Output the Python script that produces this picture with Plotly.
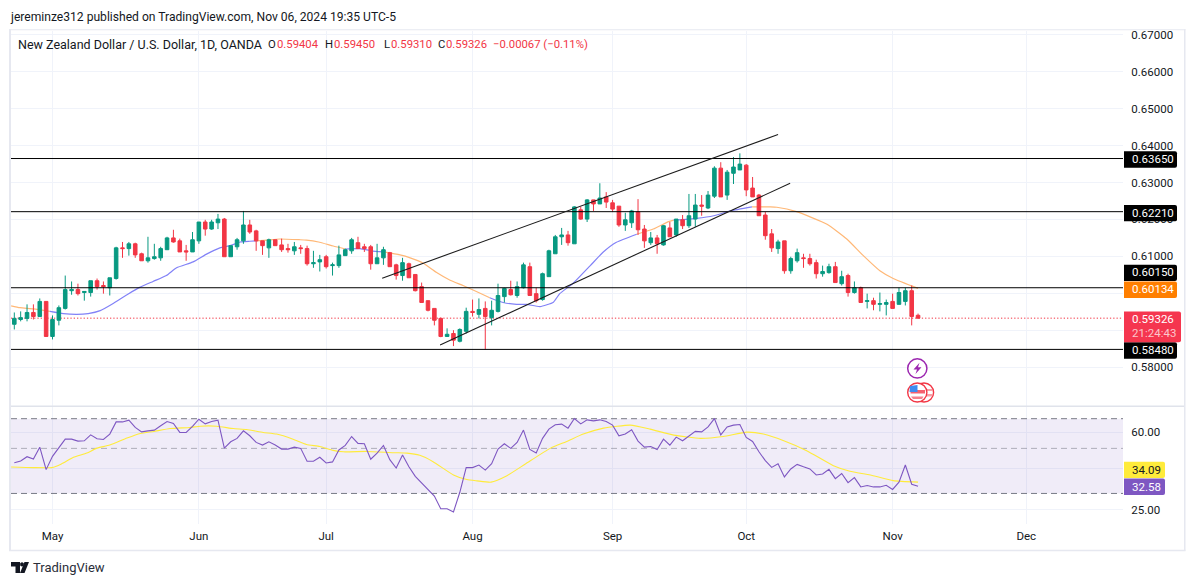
import plotly.graph_objects as go

W, H = 1195, 585

OPEN = [.5916,.5929,.5932,.5948,.5937,.5978,.5883,.5927,.5959,.6007,
 .6010,.6002,.6002,.6034,.6021,.6015,.6040,.6123,.6121,.6134,
 .6107,.6088,.6094,.6096,.6118,.6150,.6142,.6115,.6112,.6142,
 .6193,.6174,.6191,.6201,.6099,.6126,.6142,.6185,.6169,.6142,
 .6123,.6145,.6131,.6121,.6115,.6123,.6121,.6080,.6085,.6099,
 .6075,.6075,.6102,.6115,.6137,.6126,.6126,.6080,.6096,.6110,
 .6077,.6048,.6080,.6051,.6018,.5980,.5959,.5932,.5883,.5891,
 .5870,.5897,.5951,.5943,.5959,.5934,.5951,.5991,.6010,.5994,
 .6015,.6072,.5999,.5983,.6045,.6107,.6153,.6158,.6134,.6226,
 .6201,.6253,.6242,.6261,.6245,.6236,.6185,.6191,.6220,.6174,
 .6137,.6150,.6131,.6177,.6158,.6199,.6183,.6201,.6239,.6231,
 .6263,.6339,.6266,.6325,.6334,.6347,.6285,.6266,.6212,.6161,
 .6121,.6142,.6061,.6088,.6096,.6094,.6083,.6053,.6056,.6072,
 .6026,.6048,.6002,.6015,.5978,.5980,.5970,.5970,.5978,.5970,
 .5978,.6007,.59404]
HIGH = [.5948,.5951,.5970,.5970,.5986,.5978,.5940,.5967,.6048,.6032,
 .6026,.6005,.6034,.6040,.6032,.6042,.6126,.6139,.6139,.6137,
 .6110,.6153,.6134,.6126,.6153,.6172,.6148,.6131,.6166,.6193,
 .6199,.6199,.6215,.6204,.6129,.6150,.6223,.6199,.6172,.6142,
 .6148,.6145,.6148,.6134,.6139,.6131,.6129,.6115,.6104,.6104,
 .6083,.6129,.6121,.6150,.6153,.6134,.6131,.6134,.6126,.6112,
 .6080,.6096,.6083,.6051,.6029,.5980,.5959,.5934,.5905,.5900,
 .5905,.5961,.5983,.5986,.5978,.5980,.6026,.6015,.6034,.6032,
 .6083,.6083,.6015,.6056,.6118,.6158,.6177,.6169,.6236,.6234,
 .6255,.6253,.6298,.6274,.6253,.6236,.6218,.6226,.6255,.6185,
 .6166,.6158,.6185,.6193,.6201,.6212,.6269,.6269,.6266,.6277,
 .6344,.6355,.6334,.6369,.6379,.6350,.6315,.6269,.6220,.6174,
 .6145,.6142,.6099,.6121,.6107,.6107,.6091,.6075,.6080,.6085,
 .6061,.6053,.6032,.6018,.5999,.5988,.6002,.5983,.5999,.6015,
 .6015,.6021,.59450]
LOW = [.5902,.5924,.5924,.5929,.5937,.5883,.5875,.5913,.5956,.5996,
 .5994,.5980,.5991,.6010,.5999,.5994,.6037,.6096,.6102,.6096,
 .6088,.6083,.6091,.6088,.6118,.6137,.6112,.6088,.6112,.6134,
 .6156,.6172,.6174,.6099,.6099,.6118,.6134,.6161,.6115,.6104,
 .6096,.6129,.6112,.6110,.6104,.6107,.6075,.6069,.6059,.6067,
 .6048,.6069,.6102,.6107,.6121,.6112,.6064,.6080,.6077,.6072,
 .6037,.6034,.6042,.6005,.5975,.5951,.5913,.5881,.5883,.5857,
 .5867,.5891,.5937,.5932,.5848,.5913,.5948,.5975,.5994,.5988,
 .6013,.5994,.5975,.5980,.6045,.6107,.6131,.6129,.6134,.6199,
 .6193,.6223,.6242,.6231,.6220,.6180,.6169,.6177,.6158,.6123,
 .6131,.6107,.6129,.6153,.6153,.6174,.6177,.6180,.6210,.6228,
 .6258,.6261,.6253,.6296,.6334,.6263,.6261,.6210,.6145,.6112,
 .6107,.6053,.6053,.6083,.6069,.6075,.6040,.6045,.6053,.6029,
 .6021,.5991,.5999,.5975,.5959,.5954,.5951,.5940,.5959,.5970,
 .5967,.5913,.59310]
CLOSE = [.5932,.5934,.5948,.5937,.5978,.5883,.5929,.5961,.6010,.6010,
 .5999,.6005,.6034,.6018,.6018,.6042,.6123,.6121,.6134,.6104,
 .6088,.6096,.6099,.6121,.6150,.6139,.6112,.6112,.6145,.6193,
 .6174,.6193,.6201,.6099,.6129,.6145,.6185,.6166,.6142,.6129,
 .6145,.6129,.6118,.6118,.6126,.6121,.6080,.6083,.6091,.6072,
 .6077,.6104,.6118,.6145,.6121,.6121,.6080,.6096,.6118,.6072,
 .6048,.6083,.6042,.6007,.5975,.5954,.5927,.5883,.5889,.5873,
 .5902,.5951,.5948,.5956,.5937,.5954,.5994,.6013,.5996,.6018,
 .6077,.5994,.5980,.6053,.6115,.6153,.6158,.6137,.6234,.6201,
 .6253,.6242,.6258,.6247,.6228,.6185,.6199,.6223,.6172,.6142,
 .6150,.6134,.6183,.6153,.6201,.6183,.6210,.6239,.6236,.6266,
 .6339,.6261,.6328,.6342,.6350,.6280,.6261,.6210,.6156,.6123,
 .6139,.6061,.6094,.6110,.6094,.6080,.6053,.6059,.6072,.6029,
 .6045,.6002,.6015,.5975,.5980,.5970,.5972,.5975,.5959,.6002,
 .6007,.5937,.59326]
RSI = [42.5,43.3,45.5,44.3,50.7,39.3,45.7,50.4,55.5,55.5,
 54.3,54.5,58.3,55.8,55.3,58.8,67.5,67.5,68.8,63.4,
 60.3,61.0,61.5,64.6,67.8,66.3,59.9,59.9,64.1,69.6,
 66.0,67.8,68.8,50.2,53.9,56.0,61.0,57.7,53.5,51.9,
 53.9,51.9,49.6,49.6,50.7,50.0,43.2,43.2,45.2,42.4,
 42.9,49.1,51.7,57.2,52.9,52.7,44.2,47.4,51.7,44.0,
 40.0,46.4,40.6,36.4,33.8,31.6,29.1,25.2,25.2,24.3,
 30.4,40.2,40.2,41.4,39.1,42.0,49.6,52.7,50.0,53.5,
 61.5,49.4,47.4,56.0,62.2,65.3,65.8,62.9,70.1,66.0,
 69.1,68.3,69.1,67.8,65.1,57.7,58.8,61.7,54.3,50.7,
 51.1,49.4,55.5,51.9,56.8,54.5,57.7,60.6,60.3,63.8,
 70.1,58.3,63.8,65.1,65.5,56.6,54.1,48.1,43.5,40.3,
 42.0,36.2,39.6,41.7,40.6,39.6,37.0,37.4,39.4,35.5,
 37.6,33.9,35.9,32.3,32.8,32.3,32.3,32.9,31.4,34.1,
 41.4,33.3,32.58]
BARS = list(range(len(OPEN)))
assert len(OPEN) == len(HIGH) == len(LOW) == len(CLOSE) == len(RSI) == 143

RSI_MA_BAR = [-0.5,3.0,5.9,7.4,9.3,11.4,12.9,15.0,17.7,19.8,21.9,24.5,27.6,29.2,31.8,34.4,36.5,39.1,41.2,43.8,
 45.9,48.0,50.1,51.7,55.4,59.6,61.7,63.7,65.8,69.0,71.1,72.7,74.9,77.4,80.3,84.2,86.8,89.4,92.6,96.8,
 99.9,103.6,107.8,111.4,115.1,117.7,120.9,124.5,128.7,131.3,134.5,138.1,142]
RSI_MA = [40.5,40.2,40.2,41.9,45.2,47.4,50.0,51.9,56.2,59.2,60.6,62.6,63.4,64.3,64.3,62.6,61.9,59.9,58.8,55.5,
 52.3,51.1,48.9,48.1,48.3,47.6,47.4,46.2,43.0,37.0,35.1,34.6,34.1,36.7,41.9,50.0,54.1,58.8,62.9,65.1,
 62.2,58.1,56.0,57.2,60.1,58.8,54.5,48.7,41.1,38.6,37.0,34.7,34.09]

MA_ORANGE_BAR = [-0.5,0.9,3.0,5.6,None,38.1,39.7,41.7,44.9,45.9,47.8,50.1,52.0,None,58.0,60.6,62.2,64.2,66.3,68.4,70.5,72.6,74.7,None,
 97.8,100.4,102.8,103.6,None,115.9,118.8,119.8,122.9,127.7,130.8,133.4,136.0,138.1,142]
MA_ORANGE = [.5966,.5961,.5958,.5951,None,.6142,.6144,.6147,.6145,.6144,.6139,.6128,.6120,None,.6112,.6104,.6096,.6082,.6057,.6036,.6021,.6005,.5988,None,
 .6160,.6174,.6194,.6198,None,.6234,.6234,.6233,.6221,.6187,.6147,.6102,.6061,.6040,.60134]
MA_BLUE_BAR = [5.6,7.7,9.8,11.6,13.5,15.6,17.9,19.7,21.8,23.9,25.5,28.1,30.2,32.3,33.9,35.5,37.0,38.1,None,52.0,54.3,56.1,58.0,None,
 74.7,76.8,78.9,80.5,82.6,84.7,85.7,87.8,90.5,92.5,94.6,97.8,None,103.6,107.2,109.9,112.5,115.9]
MA_BLUE = [.5951,.5945,.5943,.5945,.5953,.5973,.5998,.6016,.6032,.6048,.6069,.6085,.6106,.6123,.6129,.6139,.6141,.6142,None,.6120,.6121,.6115,.6112,None,
 .5988,.5975,.5970,.5970,.5964,.5976,.5999,.6027,.6075,.6111,.6138,.6160,None,.6198,.6203,.6210,.6223,.6234]

LEVELS = [0.6365, 0.6221, 0.6015, 0.5848]
LAST_PRICE = 0.59326
CHANNEL_UPPER_BAR = [57.8, 120.0]
CHANNEL_UPPER = [0.6041, 0.6430]
CHANNEL_LOWER_BAR = [66.9, 121.9]
CHANNEL_LOWER = [0.5860, 0.6298]
PRICE_TICKS = [0.58, 0.59, 0.60, 0.61, 0.62, 0.63, 0.64, 0.65, 0.66, 0.67]
PRICE_TICK_LABELS = ["0.58000", "", "", "0.61000", "0.62000", "0.63000", "0.64000", "0.65000", "0.66000", "0.67000"]
RSI_TICKS = [60, 40, 25]
RSI_TICK_LABELS = ["60.00", "", "25.00"]
RSI_BANDS = [70, 50, 30]
MONTH_BARS = [6, 29, 49, 72, 94, 115, 138, 159]
MONTH_LABELS = ["May", "Jun", "Jul", "Aug", "Sep", "Oct", "Nov", "Dec"]

X_LEFT, X_RIGHT = -0.52, 174.2
FONT = "Roboto, sans-serif"
INK = "#131722"
GREEN, RED = "#089981", "#F23645"
GRID = "#F0F3FA"
FRAME = "#E6E8F0"


def fx(p):
    return p / W


def fy(p):
    return 1 - p / H


fig = go.Figure()

# base layer of the price pane
fig.add_trace(go.Scatter(x=[X_LEFT, X_RIGHT], y=[LAST_PRICE, LAST_PRICE], mode="lines",
                         line=dict(color=RED, width=1, dash="1.3px,2px"), xaxis="x", yaxis="y"))
fig.add_trace(go.Scatter(x=MA_ORANGE_BAR, y=MA_ORANGE, mode="lines", line=dict(color="#FFB877", width=1.2, shape="spline", smoothing=0.5),
                         connectgaps=False, xaxis="x", yaxis="y"))
fig.add_trace(go.Scatter(x=MA_BLUE_BAR, y=MA_BLUE, mode="lines", line=dict(color="#8282F7", width=1.2, shape="spline", smoothing=0.5),
                         connectgaps=False, xaxis="x", yaxis="y"))

# candles and drawings above it
fig.add_trace(go.Candlestick(x=BARS, open=OPEN, high=HIGH, low=LOW, close=CLOSE,
                             increasing=dict(line=dict(color=GREEN, width=1), fillcolor=GREEN),
                             decreasing=dict(line=dict(color=RED, width=1), fillcolor=RED),
                             xaxis="x3", yaxis="y3"))
for lvl in LEVELS:
    fig.add_trace(go.Scatter(x=[X_LEFT, X_RIGHT], y=[lvl, lvl], mode="lines", line=dict(color="#000000", width=1),
                             xaxis="x3", yaxis="y3"))
fig.add_trace(go.Scatter(x=CHANNEL_UPPER_BAR, y=CHANNEL_UPPER, mode="lines", line=dict(color="#1c1c1c", width=1.1), xaxis="x3", yaxis="y3"))
fig.add_trace(go.Scatter(x=CHANNEL_LOWER_BAR, y=CHANNEL_LOWER, mode="lines", line=dict(color="#1c1c1c", width=1.1), xaxis="x3", yaxis="y3"))

# RSI pane
fig.add_trace(go.Scatter(x=[X_LEFT, X_RIGHT], y=[RSI_BANDS[2]] * 2, mode="lines", line=dict(color="#787B86", width=1, dash="6px,4px"),
                         xaxis="x2", yaxis="y2"))
fig.add_trace(go.Scatter(x=[X_LEFT, X_RIGHT], y=[RSI_BANDS[0]] * 2, mode="lines", line=dict(color="#787B86", width=1, dash="6px,4px"),
                         fill="tonexty", fillcolor="rgba(126,87,194,0.115)", xaxis="x2", yaxis="y2"))
fig.add_trace(go.Scatter(x=[X_LEFT, X_RIGHT], y=[RSI_BANDS[1]] * 2, mode="lines", line=dict(color="rgba(120,123,134,0.55)", width=1, dash="6px,4px"),
                         xaxis="x2", yaxis="y2"))
fig.add_trace(go.Scatter(x=RSI_MA_BAR, y=RSI_MA, mode="lines", line=dict(color="#FFEB3B", width=1.1, shape="spline", smoothing=0.5), xaxis="x2", yaxis="y2"))
fig.add_trace(go.Scatter(x=BARS, y=RSI, mode="lines", line=dict(color="#7E57C2", width=1.1), xaxis="x2", yaxis="y2"))

shapes = []


def frame_rect(x0, y0, x1, y1, color):
    shapes.append(dict(type="rect", xref="paper", yref="paper", x0=fx(x0), x1=fx(x1), y0=fy(y0), y1=fy(y1),
                       fillcolor=color, line=dict(width=0), layer="above"))


frame_rect(9, 26.5, 1185.5, 27.5, FRAME)
frame_rect(9, 26.5, 11, 550.5, FRAME)
frame_rect(1184, 26.5, 1185.5, 550.5, FRAME)
frame_rect(9, 549.5, 1185.5, 551, FRAME)
frame_rect(11, 404.5, 1184, 406, "#E0E3EB")

annotations = []


def text(x, y, s, color=INK, size=11.5, anchor="left"):
    annotations.append(dict(xref="paper", yref="paper", x=fx(x - 2), y=fy(y), text=s, showarrow=False,
                            xanchor=anchor, yanchor="middle",
                            font=dict(family=FONT, size=size, color=color)))


def tag(x0, y0, x1, y1, bg):
    r = 2
    path = (f"M {fx(x0)} {fy(y0)} L {fx(x1 - r)} {fy(y0)} Q {fx(x1)} {fy(y0)} {fx(x1)} {fy(y0 + r)} "
            f"L {fx(x1)} {fy(y1 - r)} Q {fx(x1)} {fy(y1)} {fx(x1 - r)} {fy(y1)} L {fx(x0)} {fy(y1)} Z")
    shapes.append(dict(type="path", xref="paper", yref="paper", path=path, fillcolor=bg, line=dict(width=0), layer="above"))


for top, bot, lab, bg in [(149, 165.5, "0.63650", "#000000"), (203, 219.5, "0.62210", "#000000"),
                          (263, 279.5, "0.60150", "#000000"), (280, 296.5, "0.60134", "#FF7F00"),
                          (341, 357.5, "0.58480", "#000000")]:
    tag(1124, top, 1177, bot, bg)
    text(1132, (top + bot) / 2 - 0.5, lab, "#FFFFFF")
tag(1124, 310, 1181, 341, "#F5364F")
text(1132, 318, "0.59326", "#FFFFFF")
text(1132, 332, "21:24:43", "#FBC6CC")
tag(1124, 461, 1165, 477.5, "#FFEB3B")
text(1132, 469, "34.09", "#131722")
tag(1124, 478, 1165, 494.5, "#7E57C2")
text(1132, 486, "32.58", "#FFFFFF")

text(10, 14, "jereminze312 published on TradingView.com, Nov 06, 2024 19:35 UTC-5", size=12.1)
text(18, 41.5, "New Zealand Dollar / U.S. Dollar, 1D, OANDA", size=12.5)
for x, s, col in [(268, "O", INK), (276.5, "0.59404", RED), (325, "H", INK), (333.5, "0.59450", RED),
                  (384, "L", INK), (390.5, "0.59310", RED), (438, "C", INK), (445.5, "0.59326", RED),
                  (493, "\u22120.00067 (\u22120.11%)", RED)]:
    text(x, 41.5, s, col, 11.3)
text(33, 567, "TradingView", "#2A2E39", 13)


def circle(cx, cy, r, line, lw, fill="rgba(0,0,0,0)"):
    shapes.append(dict(type="circle", xref="paper", yref="paper", x0=fx(cx - r), x1=fx(cx + r), y0=fy(cy + r), y1=fy(cy - r),
                       line=dict(color=line, width=lw), fillcolor=fill, layer="above"))


def poly(points, fill):
    d = "M " + " L ".join(f"{fx(a)} {fy(b)}" for a, b in points) + " Z"
    shapes.append(dict(type="path", xref="paper", yref="paper", path=d, fillcolor=fill, line=dict(width=0), layer="above"))


# event markers
circle(917.3, 367.3, 9.6, "#9C27B0", 1.5, "#FFFFFF")
poly([(919.5, 361.5), (913.5, 368.5), (917, 368.5), (915.5, 373), (921.5, 366.2), (918, 366.2)], "#9C27B0")
circle(924, 391.5, 9.6, "#F23645", 1.4, "#FFFFFF")
poly([(920, 388), (932, 388), (932, 390), (920, 390)], "#F7A0A8")
poly([(920, 393), (932, 393), (932, 395.5), (920, 395.5)], "#F7A0A8")
circle(917.3, 391.5, 9.6, "#F23645", 1.4, "#FFFFFF")
poly([(910.5, 389), (925, 389), (925, 392.5), (910.5, 392.5)], "#F5606F")
poly([(911, 395.5), (923.5, 395.5), (922, 398), (913, 398)], "#F5808C")
poly([(910, 385), (917.5, 384), (917.5, 391), (909.5, 391)], "#3F8CF0")

# footer logo
poly([(11, 562), (20, 562), (20, 573), (15.5, 573), (15.5, 566.5), (11, 566.5)], "#131722")
circle(22, 564.3, 1.8, "#131722", 0.5, "#131722")
poly([(24.5, 562), (29, 562), (24.5, 573), (20, 573)], "#131722")

pane_x = [fx(11), fx(1123)]
price_y = [fy(405), fy(28)]
rsi_y = [fy(524), fy(406)]
PRICE_RANGE = [0.56949, 0.67108]
RSI_RANGE = [1.3251, 1.9031]

fig.update_layout(
    width=W, height=H, autosize=False, margin=dict(l=0, r=0, t=0, b=0, pad=0),
    paper_bgcolor="#FFFFFF", plot_bgcolor="#FFFFFF", showlegend=False, hovermode=False,
    boxgap=0.2,
    font=dict(family=FONT, size=11.5, color=INK),
    shapes=shapes, annotations=annotations,
    xaxis=dict(domain=pane_x, range=[X_LEFT, X_RIGHT], anchor="y", tickvals=MONTH_BARS, showticklabels=False, ticks="",
               showgrid=True, gridcolor=GRID, gridwidth=1, zeroline=False, showline=False),
    yaxis=dict(domain=price_y, range=PRICE_RANGE, anchor="x", side="right", tickvals=PRICE_TICKS, ticktext=PRICE_TICK_LABELS,
               ticks="outside", ticklen=5, tickcolor="rgba(0,0,0,0)", tickfont=dict(family=FONT, size=11.5, color=INK),
               showgrid=True, gridcolor=GRID, gridwidth=1, zeroline=False, showline=False),
    xaxis2=dict(domain=pane_x, range=[X_LEFT, X_RIGHT], anchor="y2", tickvals=MONTH_BARS, ticktext=MONTH_LABELS, ticks="outside",
                ticklen=1, tickcolor="rgba(0,0,0,0)", tickfont=dict(family=FONT, size=11.5, color=INK), showgrid=True, gridcolor=GRID,
                gridwidth=1, zeroline=False, showline=False),
    yaxis2=dict(domain=rsi_y, type="log", range=RSI_RANGE, anchor="x2", side="right", tickvals=RSI_TICKS, ticktext=RSI_TICK_LABELS,
                ticks="outside", ticklen=5, tickcolor="rgba(0,0,0,0)", tickfont=dict(family=FONT, size=11.5, color=INK),
                showgrid=True, gridcolor=GRID, gridwidth=1, zeroline=False, showline=False),
    xaxis3=dict(overlaying="x", range=[X_LEFT, X_RIGHT], anchor="y3", visible=False, rangeslider=dict(visible=False)),
    yaxis3=dict(overlaying="y", range=PRICE_RANGE, anchor="x3", side="right", visible=False),
)

fig.write_html("out.html", config=dict(displayModeBar=False),
               post_script="document.body.style.margin='0';document.body.style.background='#fff';")
